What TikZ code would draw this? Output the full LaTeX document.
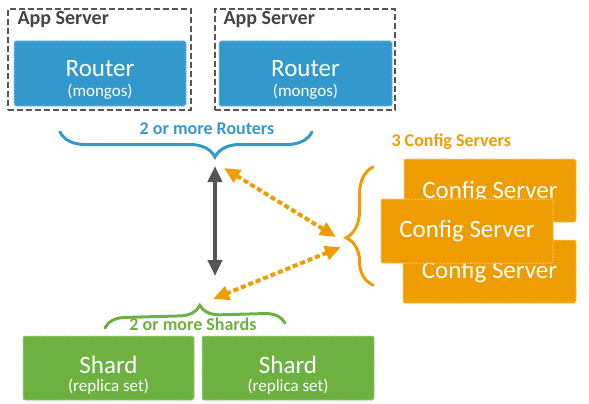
\documentclass[tikz,border=0pt]{standalone}
\usepackage{fontspec}
\setmainfont{Carlito}
\usetikzlibrary{arrows.meta,decorations.pathreplacing}
\definecolor{routerblue}{RGB}{51,153,204}
\definecolor{cfgorange}{RGB}{238,157,0}
\definecolor{shardgreen}{RGB}{109,178,64}
\definecolor{darkgray}{RGB}{85,85,85}
\tikzset{
  appbox/.style={draw=darkgray, line width=2.5pt, dash pattern=on 6pt off 3pt, inner sep=0pt},
  filledbox/.style={fill=#1, draw=#1!60!white, line width=1pt, dash pattern=on 2pt off 1pt, rounded corners=2pt, inner sep=0pt},
  bigtext/.style={anchor=base, text=white, font=\fontsize{25}{25}\selectfont},
  smalltext/.style={anchor=base, text=white, font=\fontsize{17}{17}\selectfont},
  headtext/.style={anchor=base, font=\bfseries\fontsize{18}{18}\selectfont},
  bracket/.style={draw=#1, line width=3pt, line cap=round, decorate},
  bothway/.style={{Triangle[length=16pt,width=14pt]}-{Triangle[length=16pt,width=14pt]}},
}
\begin{document}
\begin{tikzpicture}[x=1pt, y=-1pt]
			%%%%% START %%%%%
			\useasboundingbox (0, 0) rectangle (589, 404);
			
			% app servers with routers
			\node[appbox, minimum width=183pt, minimum height=101pt] (app1) at (99.5, 59.5) {};
			\node[appbox, minimum width=180pt, minimum height=101pt] (app2) at (305, 59.5) {};
			\node[anchor=base west, text=darkgray!80!black, font=\bfseries\fontsize{20}{20}\selectfont] (app1t) at (14, 25) {App Server};
			\node[anchor=base west, text=darkgray!80!black, font=\bfseries\fontsize{20}{20}\selectfont] (app2t) at (220, 25) {App Server};
			
			\node[filledbox=routerblue, minimum width=172pt, minimum height=65pt] (router1) at (100, 73.5) {};
			\node[filledbox=routerblue, minimum width=173pt, minimum height=65pt] (router2) at (305.5, 73.5) {};
			\node[bigtext] (router1t) at (100, 77) {Router};
			\node[smalltext] (router1s) at (100, 96) {(mongos)};
			\node[bigtext] (router2t) at (305.5, 77) {Router};
			\node[smalltext] (router2s) at (305.5, 96) {(mongos)};
			
			\draw[bracket=routerblue, decoration={brace, mirror, amplitude=25pt, aspect=0.615}] (60, 132) -- (312, 132);
			\node[headtext, text=routerblue] (routerlabel) at (207, 134) {2 or more Routers};
			
			% config servers
			\node[headtext, anchor=base west, text=cfgorange] (cfglabel) at (388, 146) {3 Config Servers};
			\node[filledbox=cfgorange, minimum width=172pt, minimum height=63pt] (cfg1) at (490, 190.5) {};
			\node[bigtext] (cfg1t) at (490, 198) {Config Server};
			\node[filledbox=cfgorange, minimum width=173pt, minimum height=63pt] (cfg3) at (489.5, 271.5) {};
			\node[bigtext] (cfg3t) at (489.5, 278) {Config Server};
			\node[filledbox=cfgorange, minimum width=172pt, minimum height=64pt] (cfg2) at (467, 231) {};
			\node[bigtext] (cfg2t) at (467, 237) {Config Server};
			
			\draw[bracket=cfgorange, decoration={brace, amplitude=27pt, aspect=0.4}] (373, 285) -- (373, 167);
			
			% arrows
			\coordinate (gtop) at (215, 166);
			\coordinate (gbot) at (215, 276);
			\draw[bothway, draw=darkgray, fill=darkgray, line width=4pt] (gtop) -- (gbot);
			
			\coordinate (o1a) at (224, 168);
			\coordinate (o1b) at (336, 237);
			\coordinate (o2a) at (341, 247);
			\coordinate (o2b) at (213, 299);
			\draw[bothway, draw=cfgorange, fill=cfgorange, line width=4pt, dash pattern=on 5pt off 3pt] (o1a) -- (o1b);
			\draw[bothway, draw=cfgorange, fill=cfgorange, line width=4pt, dash pattern=on 5pt off 3pt] (o2a) -- (o2b);
			
			% shards
			\draw[bracket=shardgreen, decoration={brace, amplitude=20pt, aspect=0.53}] (105, 328) -- (285, 323);
			\node[headtext, text=shardgreen] (shardlabel) at (193, 330) {2 or more Shards};
			
			\node[filledbox=shardgreen, minimum width=171pt, minimum height=64pt] (shard1) at (108.5, 368) {};
			\node[filledbox=shardgreen, minimum width=172pt, minimum height=64pt] (shard2) at (288, 368) {};
			\node[bigtext] (shard1t) at (108.5, 373) {Shard};
			\node[smalltext] (shard1s) at (108.5, 391) {(replica set)};
			\node[bigtext] (shard2t) at (288, 373) {Shard};
			\node[smalltext] (shard2s) at (288, 391) {(replica set)};
			
			%%%%% END %%%%%
		\end{tikzpicture}
\end{document}
